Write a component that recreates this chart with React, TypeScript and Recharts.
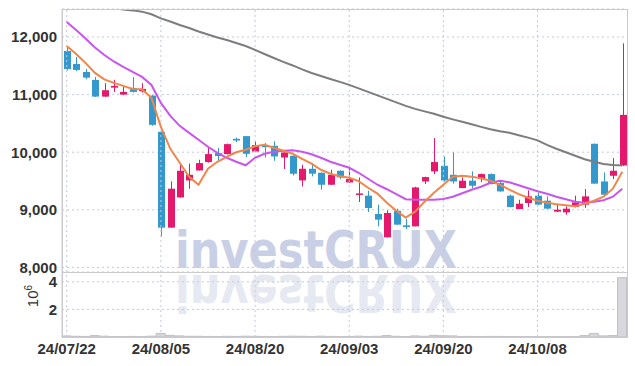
import React from "react";
import {
  Bar,
  CartesianGrid,
  ComposedChart,
  Line,
  ReferenceLine,
  XAxis,
  YAxis,
} from "recharts";

// ---------------------------------------------------------------------------
// Data
// ---------------------------------------------------------------------------

const dates = [
  "24/07/22", "24/07/23", "24/07/24", "24/07/25", "24/07/26", "24/07/29", "24/07/30", "24/07/31", "24/08/01", "24/08/02",
  "24/08/05", "24/08/06", "24/08/07", "24/08/08", "24/08/09", "24/08/12", "24/08/13", "24/08/14", "24/08/16", "24/08/19",
  "24/08/20", "24/08/21", "24/08/22", "24/08/23", "24/08/26", "24/08/27", "24/08/28", "24/08/29", "24/08/30", "24/09/02",
  "24/09/03", "24/09/04", "24/09/05", "24/09/06", "24/09/09", "24/09/10", "24/09/11", "24/09/12", "24/09/13", "24/09/19",
  "24/09/20", "24/09/23", "24/09/24", "24/09/25", "24/09/26", "24/09/27", "24/09/30", "24/10/02", "24/10/04", "24/10/07",
  "24/10/08", "24/10/10", "24/10/11", "24/10/14", "24/10/15", "24/10/16", "24/10/17", "24/10/18", "24/10/21", "24/10/22",
];

const labelDates = ["24/07/22", "24/08/05", "24/08/20", "24/09/03", "24/09/20", "24/10/08"];

const opens = [
  11757, 11532, 11393, 11255, 10965, 11121, 11000, 11116, 11059, 10983,
  10354, 8690, 9215, 9510, 9683, 9829, 9984, 9967, 10232, 10279,
  10012, 10116, 10111, 9908, 9938, 9510, 9712, 9643, 9435, 9678,
  9475, 9267, 9245, 8927, 8522, 8984, 8730, 8713, 9492, 9666,
  9764, 9608, 9378, 9505, 9539, 9620, 9465, 9245, 9014, 9118,
  9245, 9158, 8967, 8955, 9049, 9089, 10146, 9492, 9591, 9770,
];
const highs = [
  11830, 11653, 11445, 11307, 11198, 11255, 11139, 11302, 11198, 10990,
  10354, 9493, 9782, 9804, 9868, 10082, 10071, 10150, 10255, 10280,
  10185, 10158, 10185, 10000, 9945, 9782, 9810, 9650, 9695, 9685,
  9725, 9562, 9331, 9089, 8990, 9019, 8846, 9400, 9575, 10244,
  9926, 9995, 9561, 9666, 9630, 9630, 9510, 9262, 9175, 9337,
  9300, 9233, 9106, 9059, 9245, 9360, 10150, 9648, 9898, 11890,
];
const lows = [
  11420, 11410, 11272, 10960, 10960, 11047, 10990, 11035, 11035, 10458,
  8534, 8690, 9210, 9366, 9680, 9820, 9839, 9960, 10175, 9915,
  10000, 9908, 9851, 9707, 9596, 9406, 9580, 9349, 9430, 9533,
  9470, 9135, 8962, 8713, 8520, 8740, 8667, 8710, 9447, 9621,
  9488, 9453, 9375, 9378, 9482, 9440, 9315, 9045, 9010, 9048,
  9085, 9015, 8960, 8915, 9040, 9033, 9450, 9258, 9534, 9760,
];
const closes = [
  11445, 11428, 11295, 10965, 11076, 11151, 11047, 11047, 11099, 10475,
  8690, 9366, 9678, 9608, 9811, 9967, 9933, 10140, 10203, 9972,
  10123, 10088, 9926, 9994, 9626, 9712, 9627, 9435, 9608, 9562,
  9534, 9284, 9031, 8829, 8945, 8742, 8702, 9388, 9568, 9829,
  9510, 9492, 9505, 9418, 9620, 9447, 9319, 9048, 9106, 9233,
  9090, 9020, 9002, 9019, 9130, 9233, 9454, 9262, 9678, 10648,
];

// moving averages
const ma5 = [
  11844, 11705, 11550, 11376, 11263, 11203, 11151, 11099, 11094, 10943,
  10440, 10059, 9816, 9574, 9435, 9712, 9834, 9920, 9998, 10042,
  10102, 10128, 10076, 10024, 9973, 9886, 9800, 9695, 9626, 9583,
  9556, 9497, 9383, 9280, 9124, 8985, 8864, 8967, 9141, 9297,
  9435, 9574, 9591, 9574, 9548, 9504, 9435, 9349, 9271, 9210,
  9158, 9124, 9098, 9080, 9063, 9106, 9158, 9227, 9366, 9661,
];
const ma20 = [
  12260, 12121, 11974, 11818, 11688, 11575, 11480, 11393, 11307, 11168,
  10856, 10631, 10458, 10336, 10215, 10094, 9990, 9903, 9834, 9773,
  9903, 9973, 10007, 10024, 10033, 10007, 9964, 9903, 9834, 9782,
  9730, 9643, 9539, 9435, 9357, 9271, 9184, 9175, 9175, 9175,
  9187, 9227, 9288, 9349, 9400, 9470, 9504, 9478, 9426, 9374,
  9322, 9279, 9227, 9184, 9141, 9124, 9141, 9167, 9227, 9366,
];
const ma60 = [
  12680, 12640, 12600, 12565, 12530, 12500, 12478, 12462, 12440, 12395,
  12324, 12269, 12208, 12156, 12095, 12043, 11991, 11948, 11896, 11844,
  11775, 11705, 11636, 11567, 11506, 11437, 11376, 11324, 11272, 11220,
  11168, 11108, 11047, 10986, 10926, 10865, 10804, 10752, 10709, 10666,
  10614, 10570, 10527, 10484, 10440, 10397, 10362, 10336, 10293, 10253,
  10206, 10128, 10059, 9998, 9938, 9877, 9834, 9794, 9777, 9770,
];

// volume, x 10^6
const volumes = [
  0.08, 0.05, 0.04, 0.1, 0.06, 0.03, 0.03, 0.04, 0.03, 0.06,
  0.26, 0.12, 0.08, 0.05, 0.05, 0.04, 0.03, 0.05, 0.04, 0.06,
  0.05, 0.04, 0.03, 0.05, 0.06, 0.05, 0.04, 0.06, 0.04, 0.03,
  0.04, 0.06, 0.04, 0.05, 0.1, 0.05, 0.03, 0.08, 0.05, 0.12,
  0.09, 0.08, 0.04, 0.04, 0.03, 0.04, 0.04, 0.03, 0.03, 0.03,
  0.03, 0.03, 0.02, 0.02, 0.03, 0.1, 0.26, 0.08, 0.1, 4.3,
];

const priceTicks = [8000, 9000, 10000, 11000, 12000];
const volumeTicks = [2, 4];

// ---------------------------------------------------------------------------
// Styles
// ---------------------------------------------------------------------------

const UP = "#e5196b";
const DOWN = "#3399cc";
const GRID = "#c3c9de";
const BORDER = "#cbcbcf";
const FONT = "'Liberation Sans Narrow', 'Liberation Sans', sans-serif";
const MARK_FONT = "'DejaVu Sans', sans-serif";
const tickStyle = { fill: "#333", fontSize: 15, fontFamily: FONT, fontWeight: 700 };

const rows = dates.map((d, i) => ({
  date: d,
  open: opens[i],
  high: highs[i],
  low: lows[i],
  close: closes[i],
  range: [lows[i], highs[i]],
  ma5: ma5[i],
  ma20: ma20[i],
  ma60: ma60[i],
  vol: volumes[i],
}));

// ---------------------------------------------------------------------------
// Candle shape: bar spans low..high, body placed by ratio
// ---------------------------------------------------------------------------

function Candle(props: any) {
  const { x, y, width, height, payload } = props;
  if (!payload) return null;
  const { open, close, high, low } = payload;
  const color = close >= open ? UP : DOWN;
  const top = Math.min(y, y + height);
  const h = Math.abs(height);
  const ppu = h / (high - low || 1);
  const py = (v: number) => top + (high - v) * ppu;
  const cx = Math.round(x + width / 2) + 0.5;
  const bTop = py(Math.max(open, close));
  const bBot = py(Math.min(open, close));
  const bw = 7;
  return (
    <g>
      <line x1={cx} x2={cx} y1={top} y2={top + h} stroke={color} strokeWidth={1} />
      <rect
        x={cx - bw / 2}
        y={bTop}
        width={bw}
        height={Math.max(1.5, bBot - bTop)}
        fill={color}
      />
    </g>
  );
}

const gridLines = labelDates.map((d) => (
  <ReferenceLine key={d} x={d} stroke={GRID} strokeDasharray="2 3" ifOverflow="visible" />
));

export default function App() {
  return (
    <div
      style={{
        position: "absolute",
        left: 0,
        top: 0,
        width: 635,
        height: 366,
        background: "#fff",
      }}
    >
      {/* watermark + volume unit label */}
      <svg width={635} height={366} style={{ position: "absolute", left: 0, top: 0 }}>
        <text
          x={175}
          y={268}
          textLength={282}
          lengthAdjust="spacingAndGlyphs"
          fontFamily={MARK_FONT}
          fontWeight={700}
          fontSize={52}
          fill="#c9d0e6"
        >
          investCRUX
        </text>
        <text
          x={175}
          y={268}
          transform="translate(0,543) scale(1,-1)"
          textLength={282}
          lengthAdjust="spacingAndGlyphs"
          fontFamily={MARK_FONT}
          fontWeight={700}
          fontSize={52}
          fill="#e6e9f1"
        >
          investCRUX
        </text>
        <text
          transform="translate(38,296) rotate(-90)"
          textAnchor="middle"
          fill="#333"
          fontFamily={FONT}
          fontSize={15}
        >
          10
          <tspan dy={-6} fontSize={10}>
            6
          </tspan>
        </text>
      </svg>

      {/* price panel (extra bottom room so the 8,000 label is not clipped) */}
      <div style={{ position: "absolute", left: 0, top: 0 }}>
        <ComposedChart
          width={635}
          height={280}
          data={rows}
          margin={{ top: 9, right: 8, left: 0, bottom: 8 }}
        >
          <CartesianGrid stroke={GRID} strokeDasharray="2 3" vertical={false} />
          {gridLines}
          <XAxis dataKey="date" hide />
          <YAxis
            domain={[7920, 12486]}
            allowDataOverflow
            ticks={priceTicks}
            interval={0}
            width={62}
            tickSize={0}
            tickMargin={5}
            tickLine={false}
            axisLine={{ stroke: BORDER }}
            tick={tickStyle}
            tickFormatter={(v: number) => v.toLocaleString("en-US")}
          />
          <Bar dataKey="range" shape={<Candle />} isAnimationActive={false} />
          <Line dataKey="ma60" stroke="#7d7d7d" strokeWidth={2} dot={false} isAnimationActive={false} />
          <Line dataKey="ma20" stroke="#c955ee" strokeWidth={2} dot={false} isAnimationActive={false} />
          <Line dataKey="ma5" stroke="#f0864a" strokeWidth={2} dot={false} isAnimationActive={false} />
        </ComposedChart>
      </div>

      {/* volume panel */}
      <div style={{ position: "absolute", left: 0, top: 272 }}>
        <ComposedChart
          width={635}
          height={94}
          data={rows}
          margin={{ top: 0, right: 8, left: 0, bottom: 0 }}
        >
          <CartesianGrid stroke={GRID} strokeDasharray="2 3" vertical={false} />
          {gridLines}
          <XAxis
            dataKey="date"
            ticks={labelDates}
            interval={0}
            height={29}
            tickSize={0}
            tickMargin={6}
            tickLine={false}
            axisLine={{ stroke: BORDER }}
            tick={tickStyle}
          />
          <YAxis
            domain={[0, 4.71]}
            allowDataOverflow
            ticks={volumeTicks}
            interval={0}
            width={62}
            tickSize={0}
            tickMargin={5}
            tickLine={false}
            axisLine={{ stroke: BORDER }}
            tick={tickStyle}
          />
          <Bar dataKey="vol" fill="#d7d7dd" stroke="#bdbdc5" barSize={9} isAnimationActive={false} />
        </ComposedChart>
      </div>

      {/* frame */}
      <div
        style={{
          position: "absolute",
          left: 62,
          top: 9,
          width: 566,
          height: 329,
          boxSizing: "border-box",
          border: `1px solid ${BORDER}`,
          pointerEvents: "none",
        }}
      />
      <div
        style={{
          position: "absolute",
          left: 62,
          top: 272,
          width: 566,
          height: 1,
          background: BORDER,
          pointerEvents: "none",
        }}
      />
    </div>
  );
}
